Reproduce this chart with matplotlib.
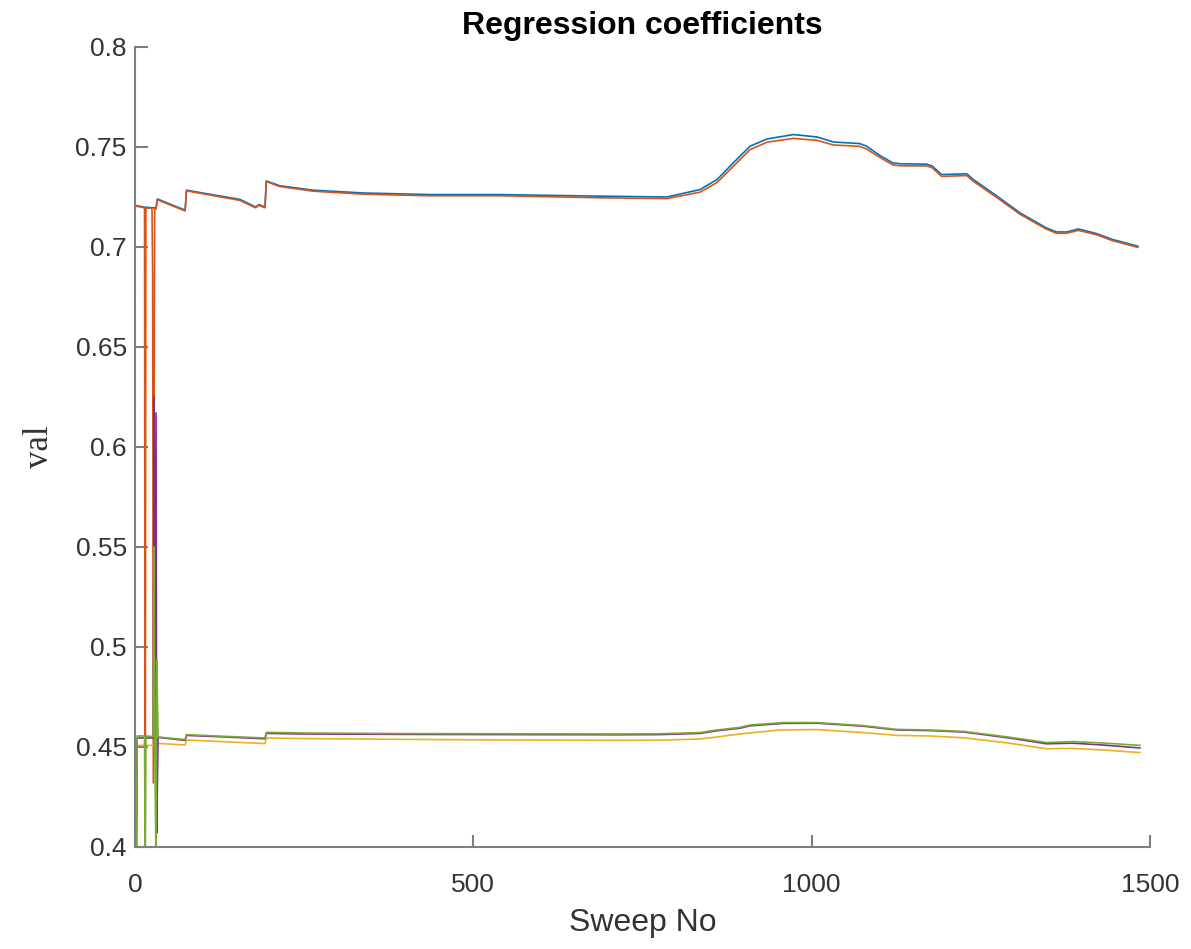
import numpy as np
import matplotlib
matplotlib.use('Agg')
import matplotlib.pyplot as plt

# sweep numbers and coefficient values
sweep_blue = [0, 14, 31, 33, 74, 76, 120, 155, 178, 183, 188, 192, 194, 214, 263, 337, 436, 540, 687, 786,
              835, 860, 884, 909, 934, 973, 1008, 1032, 1071, 1081, 1101, 1120, 1131, 1170, 1178, 1192,
              1229, 1239, 1274, 1308, 1347, 1362, 1377, 1394, 1421, 1445, 1482]
blue = [0.7208, 0.7199, 0.7195, 0.7240, 0.7184, 0.7284, 0.7258, 0.7238, 0.7200, 0.7212, 0.7205, 0.7200, 0.7330,
        0.7306, 0.7284, 0.7270, 0.7262, 0.7262, 0.7254, 0.7250, 0.7287, 0.7337, 0.7420, 0.7504, 0.7540, 0.7562,
        0.7550, 0.7525, 0.7517, 0.7504, 0.7457, 0.7420, 0.7416, 0.7414, 0.7405, 0.7362, 0.7366, 0.7337, 0.7254,
        0.7170, 0.7095, 0.7075, 0.7075, 0.7090, 0.7067, 0.7037, 0.7004]

sweep_orange = [0, 14, 15, 16, 25, 26, 27, 29, 31, 33, 74, 76, 120, 155, 178, 183, 188, 192, 194, 214, 263,
                337, 436, 540, 687, 786, 835, 860, 884, 909, 934, 973, 1008, 1032, 1071, 1081, 1101, 1120,
                1131, 1170, 1178, 1192, 1229, 1239, 1274, 1308, 1347, 1362, 1377, 1394, 1421, 1445, 1482]
orange = [0.7205, 0.7196, 0.38, 0.7195, 0.7193, 0.687, 0.432, 0.7190, 0.7190, 0.7236, 0.7180, 0.7281, 0.7254,
          0.7233, 0.7196, 0.7208, 0.7201, 0.7196, 0.7327, 0.7302, 0.7279, 0.7264, 0.7256, 0.7256, 0.7246,
          0.7242, 0.7274, 0.7322, 0.7403, 0.7487, 0.7524, 0.7543, 0.7533, 0.7510, 0.7503, 0.7490, 0.7447,
          0.7410, 0.7406, 0.7405, 0.7396, 0.7353, 0.7357, 0.7328, 0.7246, 0.7163, 0.7089, 0.7068, 0.7069,
          0.7083, 0.7061, 0.7031, 0.6998]

sweep_yellow = [0, 2, 3, 32, 34, 74, 76, 192, 194, 250, 400, 550, 717, 776, 835, 860, 894, 938, 953, 1008,
                1076, 1126, 1175, 1224, 1290, 1347, 1386, 1430, 1485]
yellow = [0.39, 0.39, 0.4508, 0.4508, 0.4518, 0.4510, 0.4535, 0.4517, 0.4545, 0.4542, 0.4538, 0.4535, 0.4533,
          0.4534, 0.4540, 0.4550, 0.4565, 0.4580, 0.4585, 0.4587, 0.4572, 0.4558, 0.4555, 0.4546, 0.4520,
          0.4491, 0.4493, 0.4485, 0.4472]

sweep_purple = [0, 2, 3, 27, 28, 29, 31, 32, 34, 74, 76, 120, 192, 194, 250, 400, 550, 717, 776, 835, 860,
                894, 909, 938, 958, 1008, 1076, 1126, 1175, 1224, 1290, 1347, 1386, 1430, 1485]
purple = [0.39, 0.39, 0.4545, 0.4545, 0.625, 0.4545, 0.617, 0.407, 0.4548, 0.4533, 0.4558, 0.4552, 0.4541,
          0.4568, 0.4565, 0.4563, 0.4562, 0.4561, 0.4562, 0.4568, 0.4581, 0.4594, 0.4606, 0.4613, 0.4618,
          0.4619, 0.4604, 0.4585, 0.4582, 0.4575, 0.4546, 0.4516, 0.4519, 0.4510, 0.4495]

sweep_green = [0, 2, 3, 14, 15, 16, 27, 28, 29, 31, 32, 34, 74, 76, 120, 192, 194, 250, 400, 550, 717, 776,
               835, 860, 894, 909, 938, 958, 1008, 1076, 1126, 1175, 1224, 1290, 1347, 1386, 1430, 1485]
green = [0.39, 0.39, 0.4555, 0.4555, 0.39, 0.4555, 0.4552, 0.55, 0.4552, 0.39, 0.4935, 0.4550, 0.4537, 0.4562,
         0.4555, 0.4545, 0.4573, 0.4570, 0.4567, 0.4566, 0.4565, 0.4566, 0.4572, 0.4585, 0.4598, 0.4610,
         0.4617, 0.4622, 0.4622, 0.4607, 0.4588, 0.4585, 0.4578, 0.4550, 0.4522, 0.4527, 0.4520, 0.4508]

ytick_vals = [0.4, 0.45, 0.5, 0.55, 0.6, 0.65, 0.7, 0.75, 0.8]
ytick_labels = ['0.4', '0.45', '0.5', '0.55', '0.6', '0.65', '0.7', '0.75', '0.8']
xtick_vals = [0, 500, 1000, 1500]

fig = plt.figure(figsize=(11.91, 9.49), dpi=100)
ax = fig.add_axes([0.1134, 0.1075, 0.8522, 0.843])

ax.plot(sweep_blue, blue, color=(0, 0.447, 0.741), lw=1.2)
ax.plot(sweep_orange, orange, color=(0.85, 0.325, 0.098), lw=1.2)
ax.plot(sweep_yellow, yellow, color=(0.929, 0.694, 0.125), lw=1.2)
ax.plot(sweep_purple, purple, color=(0.494, 0.184, 0.556), lw=1.2)
ax.plot(sweep_green, green, color=(0.466, 0.674, 0.188), lw=1.2)

ax.set_xlim(0, 1500)
ax.set_ylim(0.4, 0.8)
ax.set_xticks(xtick_vals)
ax.set_yticks(ytick_vals)
ax.set_yticklabels(ytick_labels)

for s in ['top', 'right']:
    ax.spines[s].set_visible(False)
for s in ['left', 'bottom']:
    ax.spines[s].set_color('#7f7f7f')
    ax.spines[s].set_linewidth(1.5)
ax.tick_params(direction='in', length=9, width=1.5, color='#7f7f7f',
               labelsize=19, labelcolor='#333333')
ax.tick_params(axis='x', pad=19)
ax.tick_params(axis='y', pad=6)
for lab in ax.get_xticklabels() + ax.get_yticklabels():
    lab.set_family('Liberation Sans')

ax.set_title('Regression coefficients', fontsize=23, fontweight='bold',
             family='Liberation Sans', pad=9)
ax.set_xlabel('Sweep No', fontsize=23, family='Liberation Sans', color='#333333', labelpad=8)
ax.set_ylabel('val', fontsize=25, family='Liberation Serif', color='#333333', labelpad=14)

fig.savefig('out.png', dpi=100)
